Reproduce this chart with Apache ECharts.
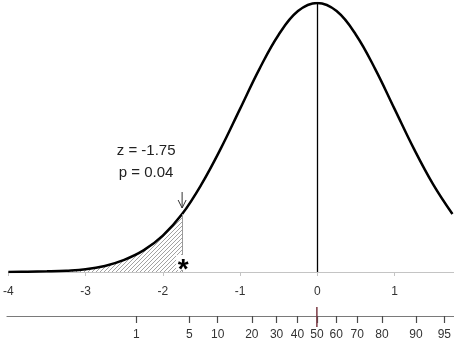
<!DOCTYPE html>
<html>
<head>
<meta charset="utf-8">
<script src="https://cdn.jsdelivr.net/npm/echarts@6/dist/echarts.min.js"></script>
<style>
  html, body { margin: 0; padding: 0; background: #fff; }
  #main { width: 454px; height: 341px; }
</style>
</head>
<body>
<div id="main"></div>
<script>
// z values and curve heights
const zVals = [-4, -3.75, -3.5, -3.25, -3, -2.75, -2.5, -2.25, -2, -1.75, -1.5, -1.25, -1,
  -0.75, -0.5, -0.25, 0, 0.25, 0.5, 0.75, 1, 1.25, 1.5, 1.75]
const density = [0.000, 0.0004, 0.001, 0.002, 0.004, 0.009, 0.018, 0.032, 0.054, 0.086, 0.130, 0.183, 0.242,
  0.301, 0.352, 0.387, 0.399, 0.387, 0.352, 0.301, 0.242, 0.183, 0.130, 0.086]
const zCut = -1.75
const zLabels = ['z = -1.75', 'p = 0.04']
// percentile scale: tick positions on the z axis and their labels
const pctZ = [-2.33, -1.645, -1.28, -0.84, -0.52, -0.25, 0, 0.25, 0.52, 0.84, 1.28, 1.645]
const pctLabels = ['1', '5', '10', '20', '30', '40', '50', '60', '70', '80', '90', '95']

const curve = zVals.map((z, i) => [z, density[i]])
const shaded = curve.filter(d => d[0] <= zCut)

// hatch pattern for the tail area
const tile = document.createElement('canvas')
tile.width = 4
tile.height = 4
const ctx = tile.getContext('2d')
ctx.strokeStyle = '#8a8a8a'
ctx.lineWidth = 0.8
ctx.beginPath()
ctx.moveTo(-1, 5); ctx.lineTo(5, -1)
ctx.moveTo(-1, 1); ctx.lineTo(1, -1)
ctx.moveTo(3, 5); ctx.lineTo(5, 3)
ctx.stroke()

const chart = echarts.init(document.getElementById('main'))
const font = 'Liberation Sans'

const option = {
  animation: false,
  grid: [
    { left: 7, right: 0, top: 3, bottom: 69 },
    { left: 7, right: 0, top: 315, height: 1 }
  ],
  xAxis: [{
    type: 'value', gridIndex: 0, min: -4, max: 1.77, interval: 1,
    axisLine: { show: true, onZero: false, lineStyle: { color: '#c4c4c4', width: 1 } },
    axisTick: { show: true, length: 4, lineStyle: { color: '#c4c4c4' } },
    axisLabel: { showMaxLabel: false, margin: 14, color: '#333', fontSize: 12, fontFamily: font },
    splitLine: { show: false }
  }, {
    type: 'value', gridIndex: 1, min: -4, max: 1.77,
    axisLine: { show: true, onZero: false, lineStyle: { color: '#7a7a7a', width: 1.2 } },
    axisTick: { show: true, inside: false, length: 7, customValues: pctZ, lineStyle: { color: '#4a4a4a', width: 1.2 } },
    axisLabel: {
      customValues: pctZ, margin: 13, color: '#333', fontSize: 12, fontFamily: font,
      formatter: v => pctLabels[pctZ.indexOf(v)]
    },
    splitLine: { show: false }
  }],
  yAxis: [
    { type: 'value', gridIndex: 0, min: 0, max: 0.399, show: false },
    { type: 'value', gridIndex: 1, min: 0, max: 1, show: false }
  ],
  series: [{
    type: 'line', xAxisIndex: 0, yAxisIndex: 0, data: shaded, smooth: 0.4,
    symbol: 'none', lineStyle: { width: 0 },
    areaStyle: { color: { image: tile, repeat: 'repeat' }, opacity: 1 },
    markLine: {
      silent: true, symbol: 'none', label: { show: false },
      lineStyle: { color: '#9a9a9a', width: 1, type: 'solid' },
      data: [[{ coord: [zCut, 0] }, { coord: [zCut, 0.086] }]]
    },
    z: 1
  }, {
    type: 'line', xAxisIndex: 0, yAxisIndex: 0, data: curve, smooth: 0.4,
    symbol: 'none', lineStyle: { color: '#000', width: 2.5 },
    markLine: {
      silent: true, label: { show: false }, symbol: 'none',
      lineStyle: { color: '#000', width: 1.3, type: 'solid' },
      data: [[{ coord: [0, 0] }, { coord: [0, 0.399] }]]
    },
    z: 3
  }]
}

chart.setOption(option)

const p50 = chart.convertToPixel({ xAxisIndex: 1 }, 0)
const pCut = chart.convertToPixel({ xAxisIndex: 0 }, zCut)
const arrowTop = 192
const arrowTip = 208
chart.setOption({
  graphic: [
    { type: 'line', shape: { x1: p50, y1: 307, x2: p50, y2: 327 }, style: { stroke: '#7b3a44', lineWidth: 1.5 }, z: 10 },
    // arrow pointing at the cut-off
    { type: 'line', shape: { x1: pCut, y1: arrowTop, x2: pCut, y2: arrowTip }, style: { stroke: '#333', lineWidth: 1 }, z: 10 },
    { type: 'polyline', shape: { points: [[pCut - 4, arrowTip - 8], [pCut, arrowTip], [pCut + 4, arrowTip - 8]] }, style: { stroke: '#333', lineWidth: 1, fill: null }, z: 10 },
    { type: 'text', x: pCut - 36, y: 151, style: { text: zLabels[0], font: '15px ' + font, fill: '#222', textAlign: 'center', textVerticalAlign: 'middle' } },
    { type: 'text', x: pCut - 36, y: 173, style: { text: zLabels[1], font: '15px ' + font, fill: '#222', textAlign: 'center', textVerticalAlign: 'middle' } },
    { type: 'rect', shape: { x: pCut - 6, y: 255, width: 16, height: 15 }, style: { fill: '#fff' }, z: 9 },
    { type: 'text', x: pCut + 1, y: 270, style: { text: '*', font: 'bold 28px ' + font, fill: '#000', textAlign: 'center', textVerticalAlign: 'middle' }, z: 10 }
  ]
})
</script>
</body>
</html>
